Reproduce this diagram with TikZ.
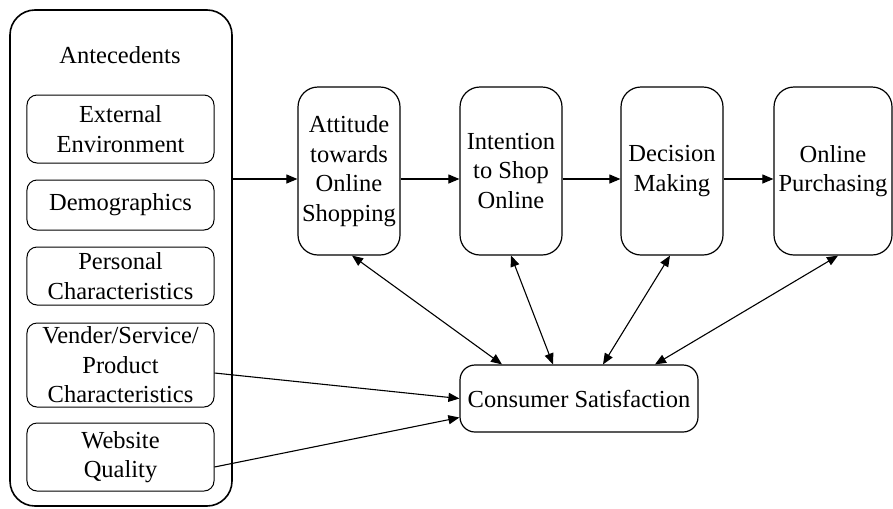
\documentclass[tikz,border=0pt]{standalone}
\usepackage{fontspec}
\setmainfont{Liberation Serif}
\usetikzlibrary{arrows.meta}

\begin{document}
\begin{tikzpicture}[x=0.4pt, y=-0.4pt,
    every node/.style={font=\fontsize{9.8}{11.8}\selectfont},
    outer/.style={draw, line width=0.64pt, rounded corners=10pt, minimum width=88.8pt, minimum height=198.4pt},
    factor/.style={draw, line width=0.4pt, rounded corners=4pt, minimum width=74.8pt, align=center, inner sep=0pt},
    stage/.style={draw, line width=0.48pt, rounded corners=8pt, minimum width=40.8pt, minimum height=67.2pt, align=center, inner sep=0pt},
    link/.style={-{Triangle[length=4.4pt,width=3.6pt]}, line width=0.44pt},
    both/.style={{Triangle[length=4.4pt,width=3.6pt]}-{Triangle[length=4.4pt,width=3.6pt]}, line width=0.44pt}]
    \useasboundingbox (0,0) rectangle (893,508);

    \node[outer] (A) at (121, 258) {};
    \node (A0) at (120, 55) {Antecedents};
    \node[factor, minimum height=27.2pt] (B1) at (120.5, 129) {External\\Environment};
    \node[factor, minimum height=20pt] (B2) at (120.5, 205) {Demographics};
    \node[factor, minimum height=23.2pt] (B3) at (120.5, 276) {Personal\\Characteristics};
    \node[factor, minimum height=33.6pt] (B4) at (120.5, 365) {Vender/Service/\\Product\\Characteristics};
    \node[factor, minimum height=27.2pt] (B5) at (120.5, 457) {Website\\Quality};

    \node[stage] (C1) at (349, 171) {Attitude\\towards\\Online\\Shopping};
    \node[stage] (C2) at (511, 171) {Intention\\to Shop\\Online};
    \node[stage] (C3) at (672, 171) {Decision\\Making};
    \node[stage, minimum width=47.2pt] (C4) at (833, 171) {Online\\Purchasing};

    \node[stage, rounded corners=6pt, minimum width=95.2pt, minimum height=26.8pt] (D) at (579, 398.5) {Consumer Satisfaction};

    \draw[link] ([yshift=-3.2pt]C1.west -| A.east) to ([yshift=-3.2pt]C1.west);
    \draw[link] ([yshift=-3.2pt]C1.east) to ([yshift=-3.2pt]C2.west);
    \draw[link] ([yshift=-3.2pt]C2.east) to ([yshift=-3.2pt]C3.west);
    \draw[link] ([yshift=-3.2pt]C3.east) to ([yshift=-3.2pt]C4.west);

    \draw[both] ([xshift=1.2pt]C1.south) to ([xshift=-30.8pt]D.north);
    \draw[both] (C2.south) to ([xshift=-10.4pt]D.north);
    \draw[both] ([xshift=-0.8pt]C3.south) to ([xshift=9.6pt]D.north);
    \draw[both] ([xshift=2pt]C4.south) to ([xshift=30.4pt]D.north);

    \draw[link] ([yshift=-3.2pt]B4.east) to (D.west);
    \draw[link] ([yshift=-4pt]B5.east) to ([yshift=-7.6pt]D.west);
\end{tikzpicture}
\end{document}
